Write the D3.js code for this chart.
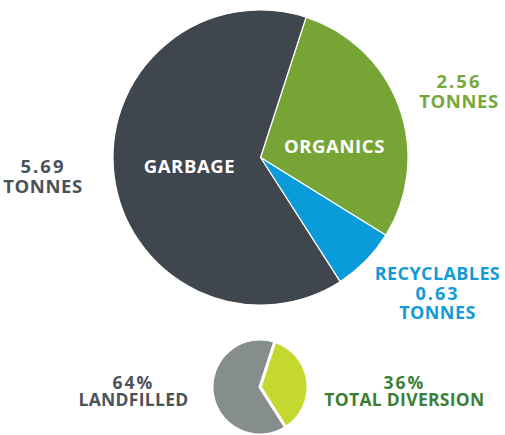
<!DOCTYPE html>
<html>
<head>
<meta charset="utf-8">
<script src="https://cdn.jsdelivr.net/npm/d3@7/dist/d3.min.js"></script>
<style>
  html, body { margin: 0; padding: 0; background: #fff; }
  svg { display: block; }
  text { font-family: "Open Sans", sans-serif; font-weight: 700; }
</style>
</head>
<body>
<svg id="chart" width="505" height="435"></svg>
<script>
// Main pie data
const categories = ["ORGANICS", "RECYCLABLES", "GARBAGE"];
const tonnes = [2.56, 0.63, 5.69];
const mainColors = ["#76a535", "#0a9bd9", "#3f464e"];

// Small pie data
const splitLabels = ["TOTAL DIVERSION", "LANDFILLED"];
const splitPercent = [36, 64];
const splitColors = ["#c5d82f", "#868e8c"];

const svg = d3.select("#chart");
const deg = Math.PI / 180;

// Main pie
const mainPie = d3.pie().sort(null).startAngle(18 * deg).endAngle(378 * deg);
const mainArc = d3.arc().innerRadius(0).outerRadius(147.5);
const gMain = svg.append("g").attr("transform", "translate(260.5,157.5)");
gMain.selectAll("path")
  .data(mainPie(tonnes))
  .join("path")
  .attr("d", mainArc)
  .attr("fill", (d, i) => mainColors[i])
  .attr("stroke", "#fff")
  .attr("stroke-width", 1.2)
  .attr("stroke-linejoin", "round");

// Inside labels
svg.append("text").attr("x", 334.5).attr("y", 153).attr("text-anchor", "middle")
  .attr("fill", "#fff").attr("font-size", 18.5).attr("letter-spacing", 0.6).text(categories[0]);
svg.append("text").attr("x", 189.5).attr("y", 173).attr("text-anchor", "middle")
  .attr("fill", "#fff").attr("font-size", 18.5).attr("letter-spacing", 0.6).text(categories[2]);

function multiLine(x, y, lines, color, gap, size, ls) {
  const t = svg.append("text").attr("text-anchor", "middle").attr("fill", color)
    .attr("font-size", size);
  lines.forEach((s, i) => {
    t.append("tspan").attr("x", x).attr("y", y + i * gap)
      .attr("letter-spacing", /^[0-9.%]+$/.test(s) ? 2 : ls).text(s);
  });
}

multiLine(43, 173, [tonnes[2].toFixed(2), "TONNES"], "#4b525a", 20, 18.5, 0.6);
multiLine(459, 88, [tonnes[0].toFixed(2), "TONNES"], "#78a83a", 20, 18.5, 0.6);
multiLine(437.5, 280, [categories[1], tonnes[1].toFixed(2), "TONNES"], "#139bd7", 19.5, 18, 0.4);

// Small pie
const smallPie = d3.pie().sort(null).startAngle(18 * deg).endAngle(378 * deg);
const smallArc = d3.arc().innerRadius(0).outerRadius(48);
const gSmall = svg.append("g").attr("transform", "translate(260,387)");
gSmall.selectAll("path")
  .data(smallPie(splitPercent))
  .join("path")
  .attr("d", smallArc)
  .attr("fill", (d, i) => splitColors[i])
  .attr("stroke", "#fff")
  .attr("stroke-width", 3)
  .attr("stroke-linejoin", "miter");

multiLine(133.5, 389, [splitPercent[1] + "%", splitLabels[1]], "#4b525a", 17, 17.5, 0.3);
multiLine(404.5, 389, [splitPercent[0] + "%", splitLabels[0]], "#3b7f34", 17, 17.5, 0.3);
</script>
</body>
</html>
